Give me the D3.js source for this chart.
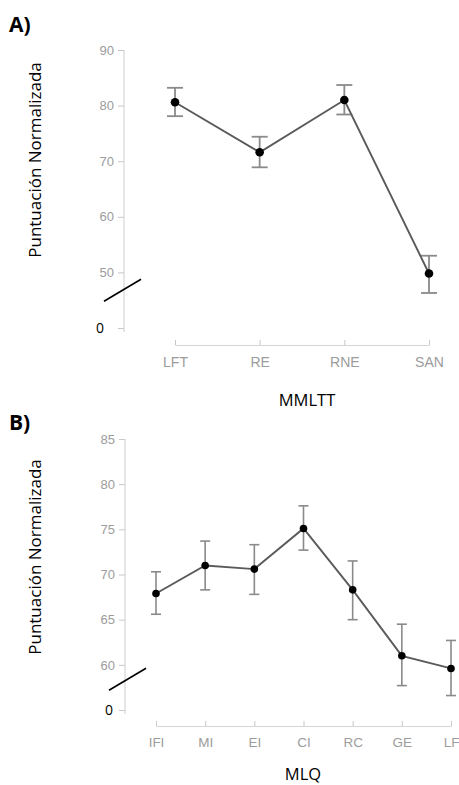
<!DOCTYPE html>
<html>
<head>
<meta charset="utf-8">
<script src="https://cdn.jsdelivr.net/npm/d3@7"></script>
<style>
  body { margin: 0; background: #fff; }
  svg { display: block; }
</style>
</head>
<body>
<script>
// Panel A data (MMLTT)
let catsA = ['LFT', 'RE', 'RNE', 'SAN'];
let meanA = [80.6, 71.6, 81.0, 49.8];
let upA = [83.2, 74.4, 83.7, 53.0];
let lowA = [78.1, 68.9, 78.4, 46.3];
let ticksA = [40, 50, 60, 70, 80, 90];
let tickLabelsA = ['0', '50', '60', '70', '80', '90'];

// Panel B data (MLQ)
let catsB = ['IFI', 'MI', 'EI', 'CI', 'RC', 'GE', 'LF'];
let meanB = [67.9, 71.0, 70.6, 75.1, 68.3, 61.0, 59.6];
let upB = [70.3, 73.7, 73.3, 77.6, 71.5, 64.5, 62.7];
let lowB = [65.6, 68.3, 67.8, 72.7, 65.0, 57.7, 56.6];
let ticksB = [55, 60, 65, 70, 75, 80, 85];
let tickLabelsB = ['0', '60', '65', '70', '75', '80', '85'];

let svg = d3.select('body').append('svg')
  .attr('width', 459)
  .attr('height', 785);

function panel(o) {
  let g = svg.append('g');
  let y = d3.scaleLinear().domain(o.yDomain).range([o.yBottom, o.yTop]);
  let x = d3.scalePoint().domain(o.cats).range([o.xLeft, o.xRight]);

  // y axis
  let yAxis = d3.axisLeft(y).tickValues(o.ticks).tickSize(6).tickPadding(4)
    .tickFormat((d, i) => o.tickLabels[i]);
  let ya = g.append('g').attr('transform', `translate(${o.axisX},0)`).call(yAxis);
  ya.select('.domain').attr('stroke', '#d6d6d6').attr('stroke-width', 1.2)
    .attr('d', `M-0,${y(o.ticks[0]) + 4}V${y(o.ticks[o.ticks.length - 1])}`);
  ya.selectAll('.tick line').attr('stroke', '#c8c8c8');
  ya.selectAll('.tick text')
    .attr('fill', (d, i) => i === 0 ? '#000' : '#9c9c9c')
    .attr('font-family', (d, i) => i === 0 ? 'Open Sans, sans-serif' : 'Liberation Sans, Arial, sans-serif')
    .attr('font-size', (d, i) => i === 0 ? '14px' : '13px')
    .attr('dx', (d, i) => i === 0 ? o.zeroDx : 0);

  // x axis
  let xAxis = d3.axisBottom(x).tickSize(-5).tickPadding(o.xPad).tickSizeOuter(0);
  let xa = g.append('g').attr('transform', `translate(0,${o.axisY})`).call(xAxis);
  xa.select('.domain').attr('stroke', '#d6d6d6').attr('stroke-width', 1.2);
  xa.selectAll('.tick line').attr('stroke', '#c8c8c8');
  xa.selectAll('.tick text').attr('fill', '#9c9c9c')
    .attr('font-family', 'Liberation Sans, Arial, sans-serif').attr('font-size', o.xFont);

  // axis break mark
  g.append('line')
    .attr('x1', o.axisX + o.breakDx[0]).attr('y1', y(o.breakVal) + 11)
    .attr('x2', o.axisX + o.breakDx[1]).attr('y2', y(o.breakVal) - 11)
    .attr('stroke', '#000').attr('stroke-width', 1.6);

  // error bars
  let eb = g.append('g').attr('stroke', '#8a8a8a').attr('stroke-width', o.ebWidth);
  o.cats.forEach((c, i) => {
    eb.append('line').attr('x1', x(c)).attr('x2', x(c)).attr('y1', y(o.up[i])).attr('y2', y(o.low[i]));
    [o.up[i], o.low[i]].forEach(v => {
      eb.append('line').attr('x1', x(c) - o.cap).attr('x2', x(c) + o.cap)
        .attr('y1', y(v)).attr('y2', y(v));
    });
  });

  // line
  let line = d3.line().x((d, i) => x(o.cats[i])).y(d => y(d));
  g.append('path').datum(o.mean).attr('d', line)
    .attr('fill', 'none').attr('stroke', '#5a5a5a').attr('stroke-width', 1.9);

  // points
  g.selectAll('circle.pt').data(o.mean).enter().append('circle')
    .attr('cx', (d, i) => x(o.cats[i])).attr('cy', d => y(d))
    .attr('r', o.r).attr('fill', '#000');

  // labels
  g.append('text').text(o.letter)
    .attr('x', 9).attr('y', o.letterY)
    .attr('font-family', 'Open Sans, sans-serif').attr('font-weight', 'bold')
    .attr('font-size', '21px').attr('fill', '#000');

  g.append('text').text('Puntuación Normalizada')
    .attr('transform', `translate(41,${o.titleY}) rotate(-90)`)
    .attr('text-anchor', 'middle')
    .attr('font-family', 'Open Sans, sans-serif').attr('font-size', '17px').attr('fill', '#000');

  g.append('text').text(o.xTitle)
    .attr('x', o.xTitleX).attr('y', o.xTitleY).attr('text-anchor', 'middle')
    .attr('font-family', 'Open Sans, sans-serif').attr('font-size', '16.5px').attr('fill', '#000');
}

panel({
  cats: catsA, mean: meanA, up: upA, low: lowA,
  ticks: ticksA, tickLabels: tickLabelsA,
  yDomain: [40, 90], yBottom: 328, yTop: 50,
  xLeft: 175, xRight: 429, axisX: 124, axisY: 345, xPad: 12, xFont: '14px',
  breakVal: 46.8, breakDx: [-20, 17], zeroDx: -10, cap: 8, ebWidth: 1.8, r: 4.3,
  letter: 'A)', letterY: 32, titleY: 160,
  xTitle: 'MMLTT', xTitleX: 307, xTitleY: 406
});

panel({
  cats: catsB, mean: meanB, up: upB, low: lowB,
  ticks: ticksB, tickLabels: tickLabelsB,
  yDomain: [55, 85], yBottom: 710, yTop: 439,
  xLeft: 156, xRight: 451, axisX: 125, axisY: 726, xPad: 11, xFont: '13.5px',
  breakVal: 58.4, breakDx: [-16, 21], zeroDx: -2, cap: 5, ebWidth: 1.6, r: 3.8,
  letter: 'B)', letterY: 430, titleY: 557,
  xTitle: 'MLQ', xTitleX: 303, xTitleY: 780
});
</script>
</body>
</html>
